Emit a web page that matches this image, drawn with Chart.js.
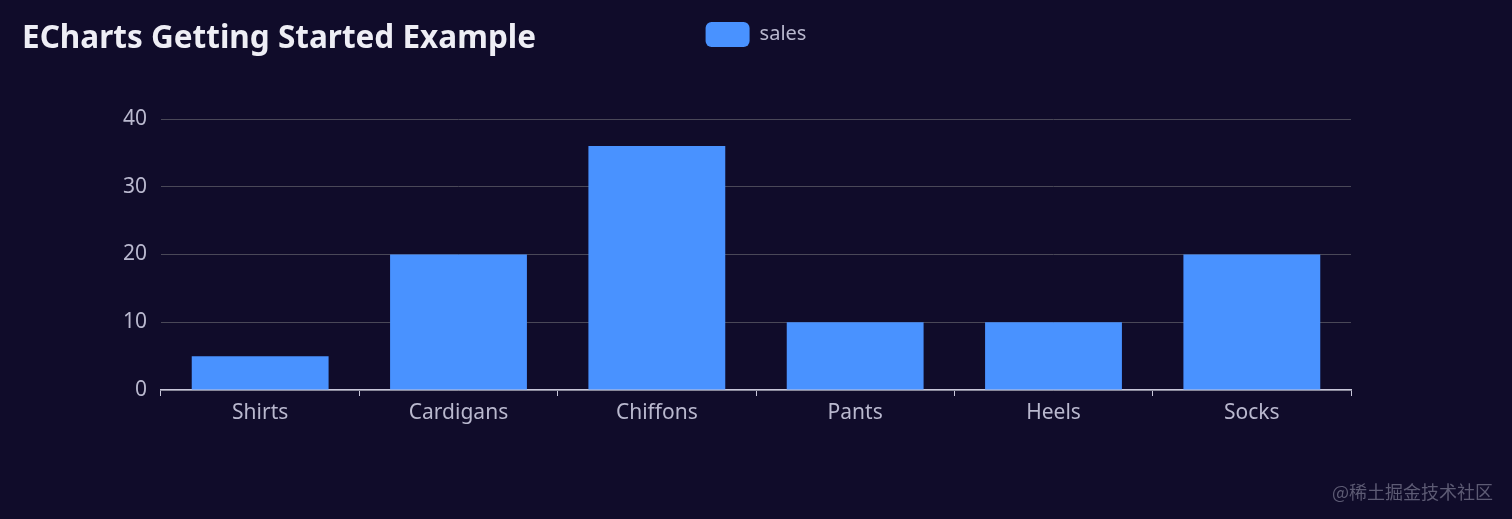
<!DOCTYPE html>
<html>
<head>
<meta charset="utf-8">
<script src="https://cdn.jsdelivr.net/npm/chart.js@4"></script>
<style>
  html, body { margin: 0; padding: 0; background: #100c2a; }
  #wrap { position: relative; width: 1512px; height: 519px; }
  #title { position: absolute; left: 22px; top: 14px; margin: 0; font: bold 31.5px "Noto Sans", sans-serif; color: #eeeef5; }
  #mark { position: absolute; right: 19px; top: 478px; font: 18px "Noto Sans CJK SC", sans-serif; color: #5d5b74; }
</style>
</head>
<body>
<div id="wrap">
  <canvas id="bar_chart" width="1512" height="519"></canvas>
  <div id="title">ECharts Getting Started Example</div>
  <div id="mark">@稀土掘金技术社区</div>
</div>
<script>
var categories = ['Shirts', 'Cardigans', 'Chiffons', 'Pants', 'Heels', 'Socks'];
var sales = [5, 20, 36, 10, 10, 20];
var yTicks = [0, 10, 20, 30, 40];

var textColor = '#b9b8ce';

// legend row takes the space above the plot and is centred on the whole canvas
var legendPlace = {
    id: 'legendPlace',
    beforeInit: function(chart) {
        var fit = chart.legend.fit;
        chart.legend.fit = function() {
            fit.bind(chart.legend)();
            this.height = 119;
        };
    },
    afterLayout: function(chart) {
        chart.legend.left = 0;
        chart.legend.right = chart.width;
        chart.legend.width = chart.width;
    }
};

var chart_data = {
    labels: categories,
    datasets: [{
        label: 'sales',
        data: sales,
        backgroundColor: '#4992ff',
        barPercentage: 0.69,
        categoryPercentage: 1
    }]
};

new Chart(document.getElementById('bar_chart'), {
    type: 'bar',
    data: chart_data,
    plugins: [legendPlace],
    options: {
        responsive: false,
        animation: false,
        layout: { padding: { left: 0, right: 161, top: 0, bottom: 0 } },
        plugins: {
            title: { display: false },
            tooltip: { enabled: false },
            legend: {
                display: true,
                position: 'top',
                labels: {
                    color: textColor,
                    boxWidth: 44,
                    boxHeight: 25,
                    useBorderRadius: true,
                    borderRadius: 6,
                    padding: 22,
                    font: { family: 'Noto Sans', size: 20 }
                }
            }
        },
        scales: {
            x: {
                afterFit: function(scale) { scale.height = 129; },
                border: { display: true, color: '#c8c7da', width: 1.5 },
                grid: {
                    offset: true,
                    drawOnChartArea: false,
                    drawTicks: true,
                    tickLength: 6,
                    color: '#c8c7da'
                },
                ticks: {
                    color: textColor,
                    padding: 4,
                    font: { family: 'Noto Sans', size: 21 }
                }
            },
            y: {
                min: 0,
                max: 40,
                afterFit: function(scale) { scale.width = 161; },
                afterBuildTicks: function(scale) {
                    scale.ticks = yTicks.map(function(v) { return { value: v }; });
                },
                border: { display: false },
                grid: { color: '#4a4858', drawTicks: false },
                ticks: {
                    color: textColor,
                    padding: 14,
                    font: { family: 'Noto Sans', size: 21 }
                }
            }
        }
    }
});
</script>
</body>
</html>
